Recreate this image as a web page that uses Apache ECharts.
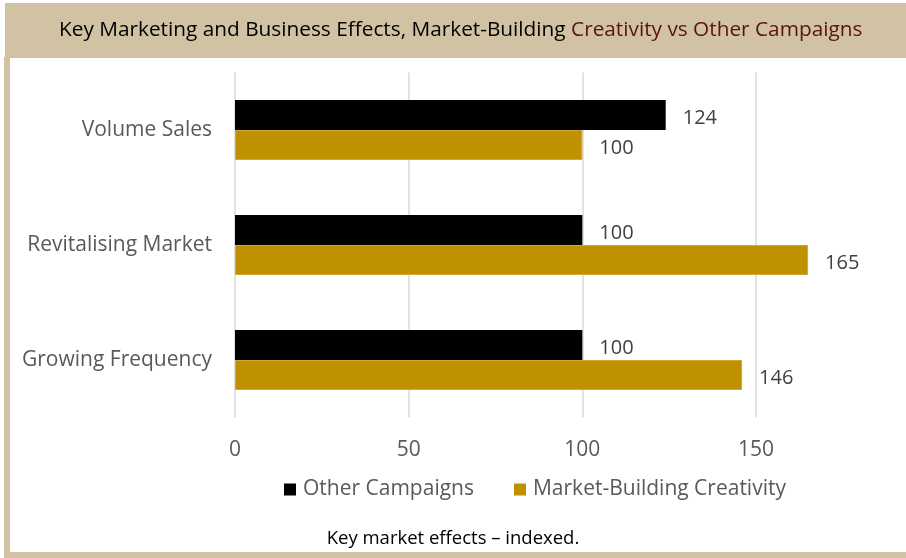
<!DOCTYPE html>
<html>
<head>
<meta charset="utf-8">
<script src="https://cdn.jsdelivr.net/npm/echarts@6/dist/echarts.min.js"></script>
<style>html,body{margin:0;padding:0;background:#fff}#c{width:906px;height:558px}</style>
</head>
<body>
<div id="c"></div>
<script>
var categories = ['Volume Sales', 'Revitalising Market', 'Growing Frequency'];
var otherCampaigns = [124, 100, 100];
var marketBuilding = [100, 165, 146];
var seriesNames = ['Other Campaigns', 'Market-Building Creativity'];
var titleBlack = 'Key Marketing and Business Effects, Market-Building ';
var titleRed = 'Creativity vs Other Campaigns';
var footer = 'Key market effects \u2013 indexed.';

var FONT = 'Open Sans';
var chart = echarts.init(document.getElementById('c'), null, {renderer: 'canvas'});
chart.setOption({
  backgroundColor: '#ffffff',
  animation: false,
  textStyle: {fontFamily: FONT},
  graphic: [
    {type: 'rect', shape: {x: 5, y: 3, width: 901, height: 55}, style: {fill: '#d1c2a4'}, z: 0},
    {type: 'rect', shape: {x: 4, y: 57, width: 6, height: 501}, style: {fill: '#d1c2a4'}, z: 0},
    {type: 'rect', shape: {x: 4, y: 552, width: 902, height: 6}, style: {fill: '#d1c2a4'}, z: 0},
    {type: 'text', left: 'center', top: 529, style: {text: footer, font: '18.5px "' + FONT + '"', fill: '#000000'}, z: 5}
  ],
  title: {
    text: '{a|' + titleBlack + '}{b|' + titleRed + '}',
    left: 54,
    top: 15,
    textStyle: {
      fontWeight: 'normal',
      rich: {
        a: {fontFamily: FONT, fontSize: 20.8, fontWeight: 'normal', color: '#000000'},
        b: {fontFamily: FONT, fontSize: 20.8, fontWeight: 'normal', color: '#5a1212'}
      }
    }
  },
  legend: {
    left: 279,
    top: 474,
    itemWidth: 12,
    itemHeight: 12,
    itemGap: 40,
    icon: 'rect',
    itemStyle: {borderWidth: 0},
    textStyle: {fontFamily: FONT, fontSize: 21, color: '#595959', padding: [0, 0, 0, 2]},
    data: seriesNames
  },
  grid: {left: 235, right: 150, top: 72.5, bottom: 140.5, containLabel: false},
  xAxis: {
    type: 'value',
    min: 0,
    max: 150,
    interval: 50,
    axisLine: {show: false},
    axisTick: {show: false},
    axisLabel: {fontFamily: FONT, fontSize: 21, color: '#595959', margin: 22},
    splitLine: {show: true, lineStyle: {color: '#d9d9d9', width: 1.5}}
  },
  yAxis: {
    type: 'category',
    data: categories,
    inverse: true,
    axisLine: {show: false},
    axisTick: {show: false},
    axisLabel: {fontFamily: FONT, fontSize: 21, color: '#595959', margin: 23}
  },
  series: [
    {
      name: seriesNames[0],
      type: 'bar',
      data: otherCampaigns,
      barWidth: 30,
      barGap: '0%',
      clip: false,
      itemStyle: {color: '#000000'},
      label: {show: true, position: 'right', distance: 17, offset: [0, 3], fontFamily: FONT, fontSize: 20, color: '#404040'}
    },
    {
      name: seriesNames[1],
      type: 'bar',
      data: marketBuilding,
      barWidth: 30,
      barGap: '0%',
      clip: false,
      itemStyle: {color: '#bf9000', borderColor: '#d4a82a', borderWidth: 1},
      label: {show: true, position: 'right', distance: 17, offset: [0, 3], fontFamily: FONT, fontSize: 20, color: '#404040'}
    }
  ]
});
</script>
</body>
</html>
